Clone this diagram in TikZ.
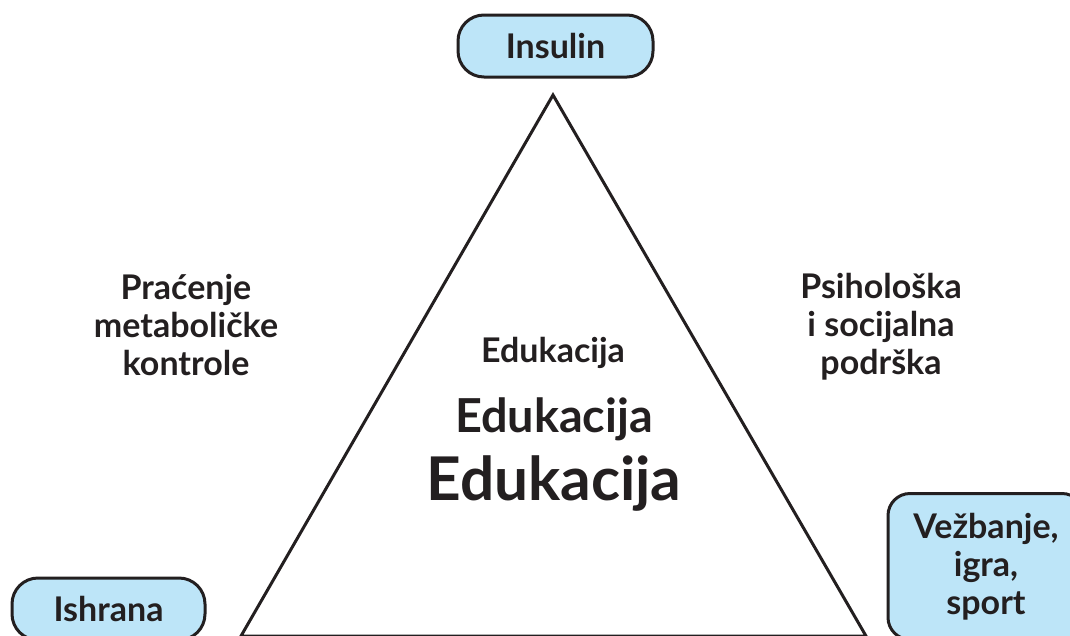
\documentclass[tikz,border=0pt]{standalone}
\usepackage{fontspec}
\setmainfont{Lato}
\usepackage{tikz}
\definecolor{ink}{RGB}{35,31,32}
\definecolor{boxblue}{RGB}{189,229,248}

\tikzset{
  pill/.style={draw=ink, line width=3pt, fill=boxblue, text=ink,
    rounded corners=26pt, minimum width=193pt, minimum height=62pt,
    inner sep=0pt, font=\bfseries\fontsize{34}{38}\selectfont},
  sidetext/.style={text=ink, align=center, inner sep=0pt,
    font=\bfseries\fontsize{34}{38}\selectfont}
}

\begin{document}
\begin{tikzpicture}[x=1pt, y=-1pt]
  \useasboundingbox (0,0) rectangle (1070,635);
  \clip (0,0) rectangle (1070,635);

  % Draw triangle
  \coordinate (apex) at (553,95);
  \coordinate (baseleft) at (241,636);
  \coordinate (baseright) at (866,636);
  \draw[ink, line width=3pt] (apex) -- (baseleft) -- (baseright) -- cycle;

  % Boxes at the corners
  \node[pill, minimum width=195pt] (insulin) at (555.5,46) {Insulin};
  \node[pill] (ishrana) at (108.5,609) {Ishrana};
  \node[pill, align=center, rounded corners=22pt, minimum width=196pt,
    minimum height=146pt, anchor=north] (vezbanje) at (986,492)
    {Vežbanje,\\igra,\\sport};

  % Labels beside the sides
  \node[sidetext] (pracenje) at (186,325) {Praćenje\\metaboličke\\kontrole};
  \node[sidetext] (podrska) at (881,327) {Psihološka\\i socijalna\\podrška};

  % Edukacija in three sizes
  \node[sidetext, anchor=base] (edusmall) at (553,362) {Edukacija};
  \node[sidetext, anchor=base, font=\bfseries\fontsize{46.8}{52}\selectfont]
    (edumid) at (554,432) {Edukacija};
  \node[sidetext, anchor=base, font=\bfseries\fontsize{60.3}{66}\selectfont]
    (edubig) at (554,500) {Edukacija};
\end{tikzpicture}
\end{document}
